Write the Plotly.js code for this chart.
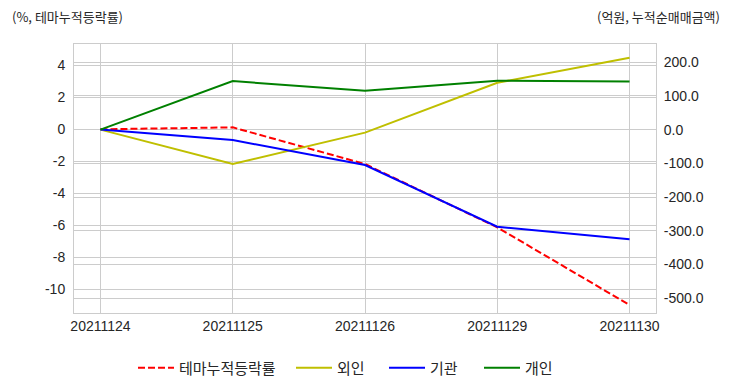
<!DOCTYPE html>
<html><head><meta charset="utf-8">
<script src="https://cdn.plot.ly/plotly-3.0.1.min.js"></script>
<style>body{margin:0;background:#fff}#c{width:732px;height:392px}</style>
</head><body><div id="c"></div>
<script>
const dates = ["20211124","20211125","20211126","20211129","20211130"];
const themeRate = [0, 0.12, -2.17, -6.13, -10.98];
const foreign = [0, -102, -9, 139, 213];
const institution = [0, -31, -105, -288, -325];
const individual = [0, 144, 115, 145, 143];
const names = ["테마누적등락률","외인","기관","개인"];
const leftTicks = [4, 2, 0, -2, -4, -6, -8, -10];
const rightTicks = [200, 100, 0, -100, -200, -300, -400, -500];

const FONT = "Liberation Sans, Noto Sans CJK KR, sans-serif";
const KFONT = "Noto Sans CJK KR, Liberation Sans, sans-serif";
const TC = "#262626";
const GRID = "#cccccc";

const traces = [
  {x: dates, y: themeRate, name: names[0], type: "scatter", mode: "lines", yaxis: "y", legend: "legend",
   line: {color: "#ff0000", width: 2, dash: "7px,3px"}},
  {x: dates, y: foreign, name: names[1], type: "scatter", mode: "lines", yaxis: "y2", legend: "legend2",
   line: {color: "#bfbf00", width: 2}},
  {x: dates, y: institution, name: names[2], type: "scatter", mode: "lines", yaxis: "y2", legend: "legend3",
   line: {color: "#0000ff", width: 2}},
  {x: dates, y: individual, name: names[3], type: "scatter", mode: "lines", yaxis: "y2", legend: "legend4",
   line: {color: "#008000", width: 2}}
];

function leg(px) {
  return {orientation: "h", xref: "container", yref: "container", x: px / 732, xanchor: "left",
          y: (392 - 368) / 392, yanchor: "middle", bgcolor: "rgba(0,0,0,0)", itemwidth: 36,
          font: {family: KFONT, size: 15, color: TC}};
}

const layout = {
  width: 732, height: 392,
  margin: {l: 74, r: 76, t: 44, b: 79, autoexpand: false},
  paper_bgcolor: "#ffffff", plot_bgcolor: "#ffffff",
  font: {family: FONT, size: 14, color: TC},
  showlegend: true,
  legend: leg(133), legend2: leg(291), legend3: leg(384), legend4: leg(479),
  xaxis: {type: "category", range: [-0.2, 4.2], showgrid: true, gridcolor: GRID, gridwidth: 1,
          showline: true, linecolor: GRID, linewidth: 1, mirror: true, zeroline: false,
          ticks: "", tickfont: {family: FONT, size: 14, color: TC}},
  yaxis: {range: [-11.48, 5.33], tickvals: leftTicks, ticktext: leftTicks.map(v => String(v)),
          showgrid: true, gridcolor: GRID, gridwidth: 1,
          zeroline: false, showline: true, linecolor: GRID, mirror: false, ticks: "",
          tickfont: {family: FONT, size: 14, color: TC}, ticklabelstandoff: 5},
  yaxis2: {overlaying: "y", side: "right", range: [-544, 254],
           tickvals: rightTicks, ticktext: rightTicks.map(v => v.toFixed(1)),
           showgrid: true, gridcolor: GRID, gridwidth: 1, zeroline: false,
           showline: true, linecolor: GRID, ticks: "",
           tickfont: {family: FONT, size: 14, color: TC}, ticklabelstandoff: 4},
  annotations: [
    {text: "(%, 테마누적등락률)", xref: "paper", yref: "paper", x: -0.11, y: 1.104,
     xanchor: "left", yanchor: "middle", showarrow: false, font: {family: KFONT, size: 13, color: TC}},
    {text: "(억원, 누적순매매금액)", xref: "paper", yref: "paper", x: 1.1134, y: 1.104,
     xanchor: "right", yanchor: "middle", showarrow: false, font: {family: KFONT, size: 13, color: TC}}
  ]
};

Plotly.newPlot("c", traces, layout, {displayModeBar: false, staticPlot: true});
</script></body></html>
